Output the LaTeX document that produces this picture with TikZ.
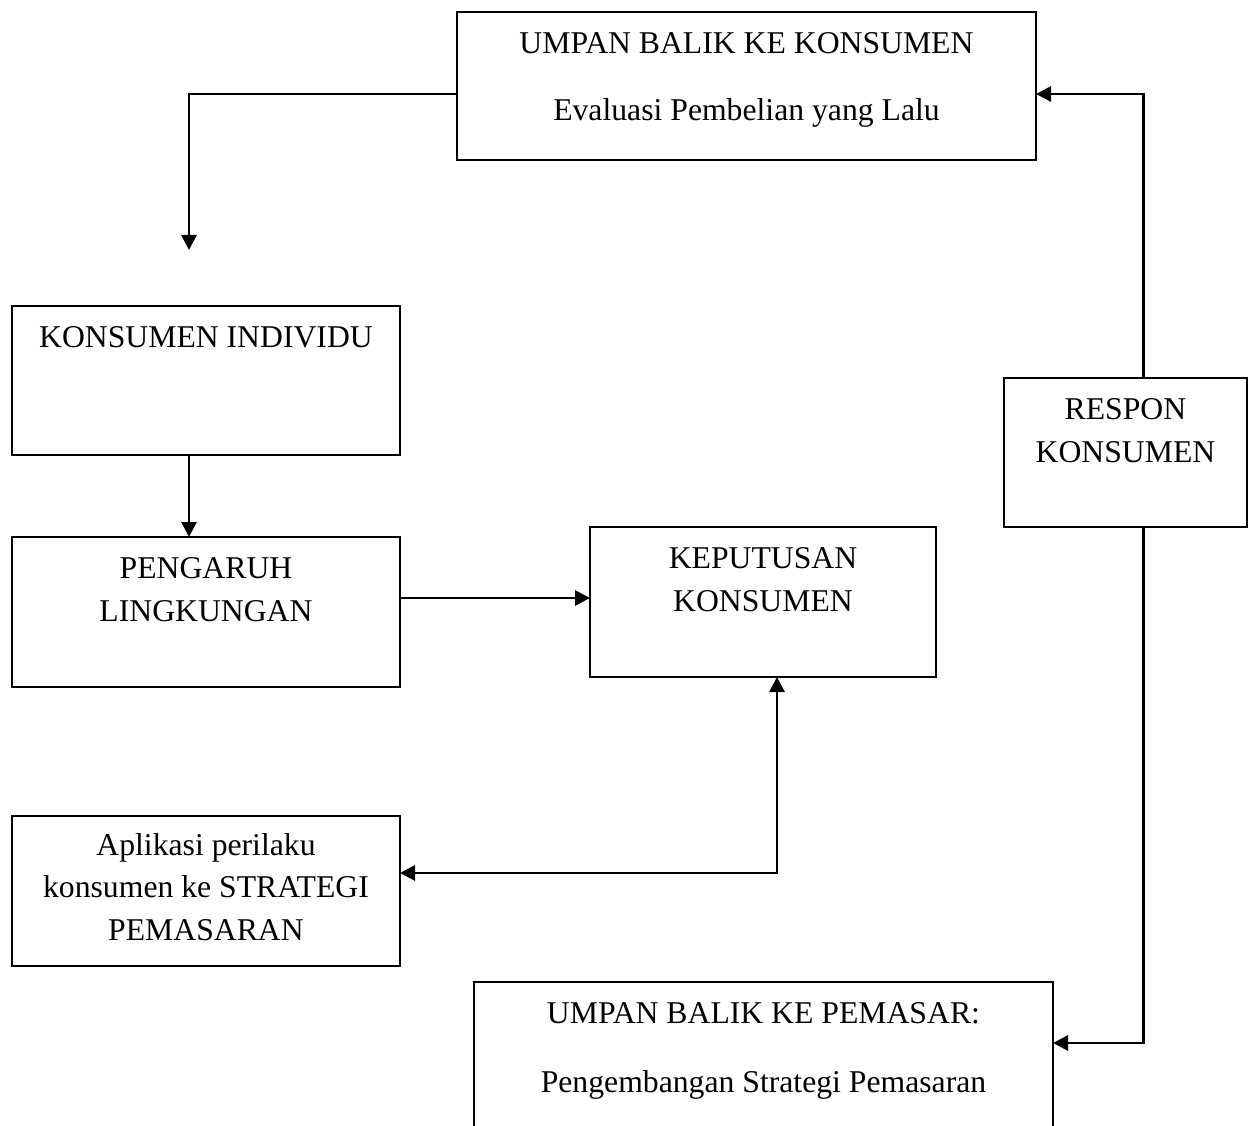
\documentclass[tikz,border=0pt]{standalone}
\usepackage{fontspec}
\setmainfont{Liberation Serif}
\usetikzlibrary{arrows.meta}
\tikzset{
  boxnode/.style={draw=black, line width=2.6pt, rectangle, inner sep=0pt, outer sep=0pt},
  txt/.style={anchor=base, inner sep=0pt, font=\fontsize{31.7}{38}\selectfont},
  conn/.style={line width=2.8pt, -{Triangle[length=15pt,width=15pt]}},
  dconn/.style={line width=2.8pt, {Triangle[length=15pt,width=15pt]}-{Triangle[length=15pt,width=15pt]}}
}
\begin{document}
\begin{tikzpicture}[x=1pt,y=-1pt]
\useasboundingbox (0,0) rectangle (1254,1126);
\clip (0,0) rectangle (1254,1126);
\fill[white] (0,0) rectangle (1254,1126);

% boxes
\node[boxnode, minimum width=579pt, minimum height=148pt] (fk) at (746.5,86) {};
\node[boxnode, minimum width=388pt, minimum height=149pt] (ki) at (206,380.5) {};
\node[boxnode, minimum width=388pt, minimum height=150pt] (pl) at (206,612) {};
\node[boxnode, minimum width=346pt, minimum height=150pt] (kk) at (763,602) {};
\node[boxnode, minimum width=388pt, minimum height=150pt] (ap) at (206,891) {};
\node[boxnode, minimum width=243pt, minimum height=149pt] (rk) at (1125.5,452.5) {};
\node[boxnode, minimum width=579pt, minimum height=158pt] (fp) at (763.5,1061) {};

% texts
\node[txt] (fk1) at (746.5,54) {UMPAN BALIK KE KONSUMEN};
\node[txt] (fk2) at (746.5,121) {Evaluasi Pembelian yang Lalu};
\node[txt] (ki1) at (206,347) {KONSUMEN INDIVIDU};
\node[txt] (pl1) at (206,578) {PENGARUH};
\node[txt] (pl2) at (206,621) {LINGKUNGAN};
\node[txt] (kk1) at (763,568) {KEPUTUSAN};
\node[txt] (kk2) at (763,611) {KONSUMEN};
\node[txt] (ap1) at (206,855) {Aplikasi perilaku};
\node[txt] (ap2) at (206,897) {konsumen ke STRATEGI};
\node[txt] (ap3) at (206,940) {PEMASARAN};
\node[txt] (rk1) at (1125.5,419) {RESPON};
\node[txt] (rk2) at (1125.5,462) {KONSUMEN};
\node[txt] (fp1) at (763.5,1023) {UMPAN BALIK KE PEMASAR:};
\node[txt] (fp2) at (763.5,1092) {Pengembangan Strategi Pemasaran};

% connectors
\coordinate (c1) at (189,250);
\draw[conn] ([yshift=-8pt]fk.west) -| (c1);
\draw[conn] ([xshift=-17pt]ki.south) -- ([xshift=-17pt]pl.north);
\draw[conn] ([yshift=14pt]pl.east) -- ([yshift=14pt]pl.east -| kk.west);
\draw[dconn] ([yshift=18pt]ap.east) -| ([xshift=14pt]kk.south);
\draw[conn] ([xshift=18pt]rk.north) |- ([yshift=-8pt]fk.east);
\draw[conn] ([xshift=18pt]rk.south) |- ([yshift=18pt]fp.east);
\end{tikzpicture}
\end{document}
